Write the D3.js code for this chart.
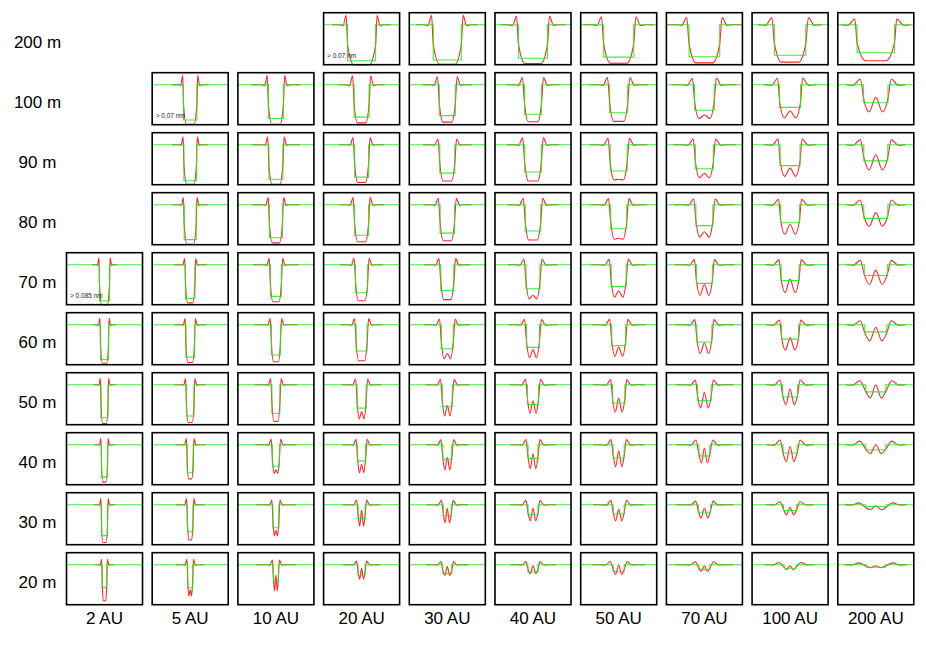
<!DOCTYPE html>
<html>
<head>
<meta charset="utf-8">
<script src="https://cdn.jsdelivr.net/npm/d3@7/dist/d3.min.js"></script>
<style>
  body { margin: 0; background: #fff; }
  svg { display: block; font-family: "Liberation Sans", Arial, sans-serif; }
</style>
</head>
<body>
<script>
// columns = distance, rows = object size
var distances = ["2 AU", "5 AU", "10 AU", "20 AU", "30 AU", "40 AU", "50 AU", "70 AU", "100 AU", "200 AU"];
var sizes = ["200 m", "100 m", "90 m", "80 m", "70 m", "60 m", "50 m", "40 m", "30 m", "20 m"];
var n = null;

// half width of the equivalent box (panel units, panel spans -38..38)
var boxHalf = [
  [n, n, n, 14, 14, 14.5, 15, 15.3, 15.7, 18.7],
  [n, 6.7, 7.5, 7.5, 8, 8.5, 9, 9.8, 10.5, 12.2],
  [n, 6.3, 7, 7, 7.5, 8.3, 8.5, 9, 10, 12],
  [n, 6, 6.5, 7, 7.2, 7.7, 8, 8.5, 9.5, 12],
  [5, 4.7, 5.5, 6, 6.5, 7, 7.5, 8, 9, 11.5],
  [4, 4.3, 4.5, 5.5, 6, 6.5, 7, 7.5, 8.5, 11],
  [3.5, 3.8, 4, 4.5, 5, 5.5, 6.2, 6.8, 7.5, 10],
  [3, 3, 3.5, 4, 4.5, 5, 5.5, 5.5, 7, 10],
  [3, 2.8, 3, 3.5, 4, 5, 5.5, 6, 6.5, 10.3],
  [2.3, 2.5, 2.5, 3.5, 4.5, 5, 5.5, 5.5, 6, 9.5]
];
// normalised flux at the bottom of the box
var boxLevel = [
  [n, n, n, 0, 0.02, 0.07, 0.1, 0.11, 0.15, 0.22],
  [n, 0.02, 0.06, 0.1, 0.14, 0.18, 0.22, 0.29, 0.37, 0.5],
  [n, 0, 0.04, 0.1, 0.21, 0.24, 0.27, 0.33, 0.42, 0.55],
  [n, 0.03, 0.08, 0.15, 0.21, 0.27, 0.33, 0.42, 0.5, 0.62],
  [0, 0.06, 0.12, 0.22, 0.28, 0.33, 0.39, 0.48, 0.56, 0.7],
  [0.03, 0.1, 0.16, 0.27, 0.33, 0.37, 0.42, 0.52, 0.6, 0.8],
  [0.08, 0.13, 0.2, 0.35, 0.4, 0.45, 0.49, 0.56, 0.66, 0.8],
  [0.1, 0.22, 0.4, 0.55, 0.6, 0.62, 0.63, 0.69, 0.77, 0.86],
  [0.14, 0.25, 0.36, 0.62, 0.7, 0.72, 0.74, 0.79, 0.84, 0.95],
  [0.37, 0.36, 0.57, 0.7, 0.76, 0.8, 0.82, 0.87, 0.9, 0.93]
];
// lowest point of the diffraction profile
var redMin = [
  [n, n, n, -0.12, -0.1, -0.08, -0.07, -0.06, -0.04, 0],
  [n, -0.1, -0.1, -0.06, -0.04, -0.03, -0.02, 0.06, 0.08, 0.24],
  [n, -0.1, -0.1, -0.05, -0.01, -0.01, 0.02, 0.08, 0.12, 0.3],
  [n, -0.1, -0.06, -0.03, 0, 0.02, 0.04, 0.1, 0.18, 0.4],
  [-0.12, -0.06, -0.03, 0, 0.03, 0.05, 0.1, 0.15, 0.23, 0.45],
  [-0.07, -0.05, -0.03, 0, 0.05, 0.08, 0.12, 0.2, 0.3, 0.55],
  [-0.08, -0.05, -0.02, 0.05, 0.13, 0.2, 0.24, 0.35, 0.44, 0.63],
  [-0.04, 0.05, 0.2, 0.22, 0.3, 0.33, 0.39, 0.49, 0.53, 0.75],
  [-0.05, 0.02, 0.13, 0.4, 0.5, 0.55, 0.55, 0.63, 0.72, 0.86],
  [0, 0.13, 0.27, 0.6, 0.7, 0.75, 0.73, 0.81, 0.86, 0.92]
];
// profile value at the centre (central bright spot)
var redCenter = [
  [n, n, n, -0.12, -0.1, -0.08, -0.07, -0.06, -0.04, 0],
  [n, -0.1, -0.1, -0.06, -0.04, -0.03, -0.02, 0.16, 0.27, 0.65],
  [n, -0.1, -0.1, -0.05, -0.01, -0.01, 0.04, 0.2, 0.35, 0.72],
  [n, -0.1, -0.06, -0.03, 0, 0.02, 0.07, 0.25, 0.45, 0.78],
  [-0.12, -0.06, -0.03, 0, 0.03, 0.15, 0.27, 0.45, 0.6, 0.85],
  [-0.07, -0.05, -0.03, 0, 0.2, 0.3, 0.38, 0.5, 0.64, 0.93],
  [-0.08, -0.05, -0.02, 0.25, 0.42, 0.55, 0.63, 0.79, 0.88, 1.0],
  [-0.04, 0.05, 0.3, 0.45, 0.65, 0.75, 0.83, 0.91, 0.95, 1.0],
  [-0.05, 0.02, 0.29, 0.85, 0.9, 0.9, 0.88, 0.91, 0.93, 0.97],
  [0, 0.3, 0.71, 0.9, 0.95, 0.97, 0.99, 0.97, 0.97, 0.97]
];
// height of the bright rim
var redPeak = [
  [n, n, n, 1.26, 1.26, 1.24, 1.22, 1.2, 1.2, 1.16],
  [n, 1.26, 1.26, 1.25, 1.22, 1.2, 1.2, 1.18, 1.18, 1.16],
  [n, 1.22, 1.22, 1.2, 1.16, 1.19, 1.18, 1.16, 1.16, 1.14],
  [n, 1.2, 1.2, 1.2, 1.18, 1.18, 1.17, 1.16, 1.15, 1.13],
  [1.19, 1.17, 1.18, 1.18, 1.17, 1.16, 1.15, 1.14, 1.14, 1.12],
  [1.18, 1.17, 1.17, 1.17, 1.16, 1.15, 1.15, 1.14, 1.13, 1.11],
  [1.18, 1.17, 1.17, 1.16, 1.15, 1.15, 1.14, 1.13, 1.13, 1.11],
  [1.17, 1.17, 1.16, 1.15, 1.14, 1.14, 1.14, 1.13, 1.13, 1.1],
  [1.17, 1.17, 1.13, 1.13, 1.12, 1.12, 1.12, 1.1, 1.08, 1.05],
  [1.15, 1.15, 1.13, 1.1, 1.09, 1.09, 1.09, 1.08, 1.06, 1.05]
];
// position of the bright rim from the centre
var peakX = [
  [n, n, n, 15.5, 15.8, 16.5, 17.2, 17.7, 18.3, 21],
  [n, 7.5, 8.7, 9, 9.8, 10.5, 11.2, 12, 12.5, 15.5],
  [n, 7.1, 8.2, 8.5, 9.3, 10.3, 10.7, 11.2, 12, 15.5],
  [n, 6.8, 7.7, 8.5, 9, 9.7, 10.2, 10.7, 11.5, 15.5],
  [5.6, 5.5, 6.7, 7.5, 8.3, 9, 9.5, 10, 11, 15.5],
  [4.6, 5.1, 5.7, 7, 7.8, 8.5, 9, 9.5, 10.5, 15.5],
  [4.1, 4.6, 5.2, 6, 6.8, 7.5, 8, 9, 10, 16],
  [3.6, 3.8, 4.7, 5.5, 6.3, 7, 7.7, 8.5, 10, 16],
  [3.6, 3.6, 4, 5, 5.8, 7, 7.7, 8.7, 10, 17],
  [2.9, 3.3, 3.5, 5, 6.3, 7, 8.5, 9.2, 11, 17]
];
// spacing of the outer fringes and how far past the rim the profile was computed, per distance
var fringeStep = [1.5, 2, 2.5, 3, 3.5, 4, 4.5, 5, 6, 7];
var profileMargin = [7, 11, 16, 14, 15, 16, 18, 20, 14, 9];

// panel notes
var notes = [
  {row: 0, col: 3, text: "> 0.07 nm"},
  {row: 1, col: 1, text: "> 0.07 nm"},
  {row: 4, col: 0, text: "> 0.085 nm"}
];

var W = 926, H = 651;
var svg = d3.select("body").append("svg").attr("width", W).attr("height", H);

var colScale = d3.scaleBand().domain(distances).range([66.5, 913.8]).paddingInner(0.113).paddingOuter(0);
var rowScale = d3.scaleBand().domain(sizes).range([12.7, 604.7]).paddingInner(0.1333).paddingOuter(0);
var pw = colScale.bandwidth(), ph = rowScale.bandwidth();

var x = d3.scaleLinear().domain([-38, 38]).range([0, pw]);
var y = d3.scaleLinear().domain([0, 1]).range([48, 12]);

var boxLine = d3.line().x(function(d) { return x(d[0]); }).y(function(d) { return y(d[1]); });
var redLine = d3.line().x(function(d) { return x(d[0]); }).y(function(d) { return y(d[1]); })
  .curve(d3.curveMonotoneX);

// collect panels
var panels = [];
sizes.forEach(function(s, r) {
  distances.forEach(function(dist, c) {
    if (boxHalf[r][c] == null) return;
    panels.push({row: r, col: c});
  });
});

function boxPoints(p) {
  var w = boxHalf[p.row][p.col], b = boxLevel[p.row][p.col];
  return [[-38, 1], [-w, 1], [-w, b], [w, b], [w, 1], [38, 1]];
}

function profilePoints(p) {
  var r = p.row, c = p.col;
  var w = boxHalf[r][c], m = redMin[r][c], ctr = redCenter[r][c];
  var pk = redPeak[r][c], px = peakX[r][c];
  var g = fringeStep[c], ext = Math.min(38, px + profileMargin[c]);
  var half = [];
  half.push([0, ctr]);
  half.push([0.55 * w, m]);
  half.push([w, (m + 1) / 2]);
  half.push([px, pk]);
  half.push([px + g, 1 - 0.1 * (pk - 1)]);
  half.push([px + 2 * g, 1]);
  if (ext > px + 2 * g) half.push([ext, 1]);
  var left = half.slice(1).reverse().map(function(d) { return [-d[0], d[1]]; });
  return left.concat(half);
}

var g = svg.selectAll("g.panel").data(panels).enter().append("g")
  .attr("class", "panel")
  .attr("transform", function(d) {
    return "translate(" + colScale(distances[d.col]) + "," + rowScale(sizes[d.row]) + ")";
  });

// red profile underneath, green box on top
g.append("path")
  .attr("d", function(d) { return redLine(profilePoints(d)); })
  .attr("fill", "none")
  .attr("stroke", "#ff0000")
  .attr("stroke-opacity", 0.85)
  .attr("stroke-width", 1.1);

g.append("path")
  .attr("d", function(d) { return boxLine(boxPoints(d)); })
  .attr("fill", "none")
  .attr("stroke", "#22e622")
  .attr("stroke-opacity", 0.85)
  .attr("stroke-width", 1.1);

g.append("rect")
  .attr("width", pw).attr("height", ph)
  .attr("fill", "none")
  .attr("stroke", "#000")
  .attr("stroke-width", 1.6);

// notes inside a few panels
svg.selectAll("text.note").data(notes).enter().append("text")
  .attr("class", "note")
  .attr("x", function(d) { return colScale(distances[d.col]) + 3.5; })
  .attr("y", function(d) { return rowScale(sizes[d.row]) + 45.5; })
  .attr("font-size", 6.5)
  .attr("fill", "#222")
  .text(function(d) { return d.text; });

// row labels
svg.selectAll("text.rowlab").data(sizes).enter().append("text")
  .attr("class", "rowlab")
  .attr("x", 37.5)
  .attr("y", function(d) { return rowScale(d) + 35.5; })
  .attr("text-anchor", "middle")
  .attr("font-size", 17)
  .text(function(d) { return d; });

// column labels
svg.selectAll("text.collab").data(distances).enter().append("text")
  .attr("class", "collab")
  .attr("x", function(d) { return colScale(d) + pw / 2; })
  .attr("y", 624)
  .attr("text-anchor", "middle")
  .attr("font-size", 17)
  .text(function(d) { return d; });
</script>
</body>
</html>
